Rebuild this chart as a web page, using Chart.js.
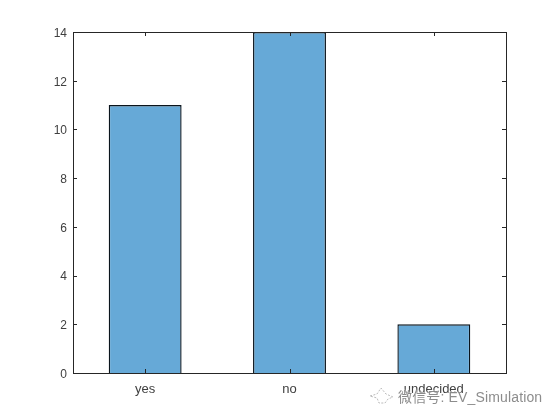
<!DOCTYPE html>
<html>
<head>
<meta charset="utf-8">
<script src="https://cdn.jsdelivr.net/npm/chart.js@4"></script>
<style>
  html, body { margin: 0; padding: 0; background: #fff; }
  #wrap { position: relative; width: 560px; height: 420px; }
  #watermark {
    position: absolute; left: 398px; top: 386px;
    font: 14px "Liberation Sans", "Noto Sans CJK SC", sans-serif;
    letter-spacing: 0.15px; white-space: nowrap;
    color: rgba(120, 120, 120, 0.85);
    text-shadow: 0 0 2px #fff, 0 0 2px #fff;
  }
  #logo { position: absolute; left: 368px; top: 385px; }
</style>
</head>
<body>
<div id="wrap">
  <canvas id="chart" width="560" height="420"></canvas>
  <svg id="logo" width="28" height="20" viewBox="0 0 28 20">
    <path d="M2 11 L9 9 L13 3 L18 9 L25 12 L20 14 L17 18 L11 18 L9 13 Z" fill="none" stroke="#aaa" stroke-width="0.8" stroke-dasharray="2 1.5"/>
  </svg>
  <div id="watermark">微信号: EV_Simulation</div>
</div>
<script>
// Values
const categories = ['yes', 'no', 'undecided'];
const counts = [11, 14, 2];
const yTicks = [0, 2, 4, 6, 8, 10, 12, 14];

const axisColor = '#262626';
const textColor = '#404040';

// Box round the plot and short inward ticks on all four sides
const boxTicks = {
  id: 'boxTicks',
  afterDatasetsDraw(chart) {
    const { ctx, chartArea: a, scales } = chart;
    const len = 4;
    ctx.save();
    ctx.strokeStyle = axisColor;
    ctx.lineWidth = 1;
    ctx.strokeRect(a.left + 0.5, a.top + 0.5, a.right - a.left, a.bottom - a.top);
    ctx.beginPath();
    categories.forEach((c, i) => {
      const x = Math.round(scales.x.getPixelForTick(i)) + 0.5;
      ctx.moveTo(x, a.bottom); ctx.lineTo(x, a.bottom - len);
      ctx.moveTo(x, a.top); ctx.lineTo(x, a.top + len);
    });
    yTicks.forEach(v => {
      const y = Math.round(scales.y.getPixelForValue(v)) + 0.5;
      ctx.moveTo(a.left, y); ctx.lineTo(a.left + len, y);
      ctx.moveTo(a.right, y); ctx.lineTo(a.right - len, y);
    });
    ctx.stroke();
    ctx.restore();
  }
};

new Chart(document.getElementById('chart'), {
  type: 'bar',
  data: {
    labels: categories,
    datasets: [{
      data: counts,
      backgroundColor: '#66a9d7',
      borderColor: '#0a141c',
      borderWidth: 1.4,
      categoryPercentage: 1,
      barPercentage: 0.505
    }]
  },
  options: {
    responsive: false,
    animation: false,
    layout: { padding: { top: 32, right: 54, bottom: 0, left: 0 } },
    plugins: { legend: { display: false }, title: { display: false }, tooltip: { enabled: false } },
    scales: {
      x: {
        grid: { display: false, drawTicks: false },
        border: { display: false },
        ticks: { color: textColor, font: { family: 'Liberation Sans', size: 13 }, padding: 9 },
        afterFit(s) { s.height = 47; }
      },
      y: {
        min: 0,
        max: 14,
        grid: { display: false, drawTicks: false },
        border: { display: false },
        ticks: { stepSize: 2, color: textColor, font: { family: 'Liberation Sans', size: 12 }, padding: 6, labelOffset: 1.5 },
        afterFit(s) { s.width = 73; }
      }
    }
  },
  plugins: [boxTicks]
});
</script>
</body>
</html>
